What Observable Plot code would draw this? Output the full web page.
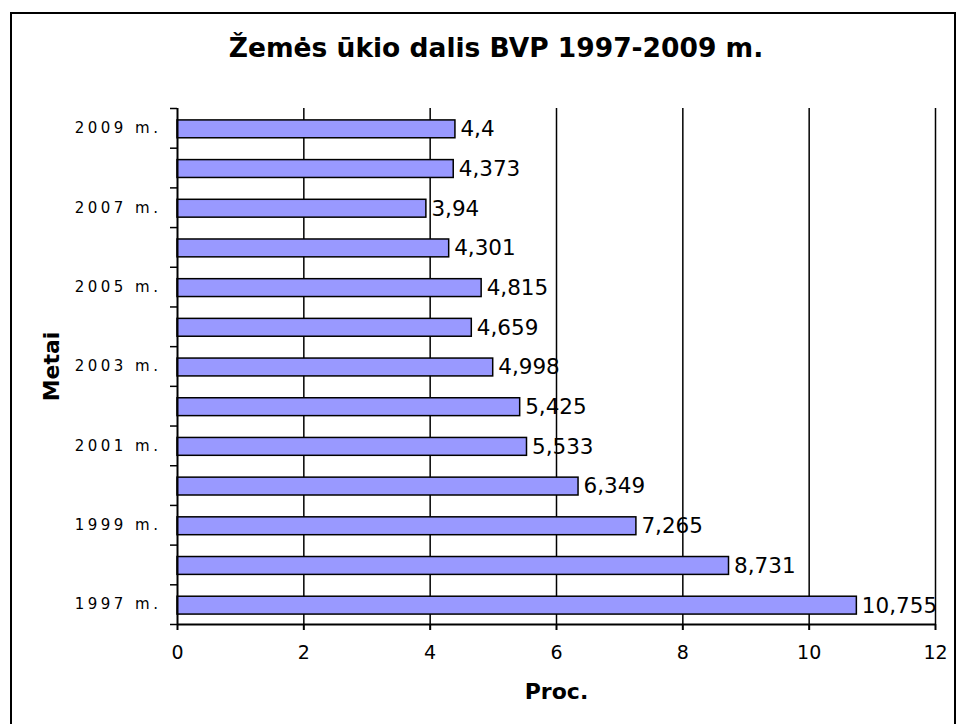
<!DOCTYPE html>
<html>
<head>
<meta charset="utf-8">
<script src="https://cdn.jsdelivr.net/npm/d3@7"></script>
<script src="https://cdn.jsdelivr.net/npm/@observablehq/plot@0.6"></script>
<style>
  body { margin: 0; background: #fff; }
  #wrap { position: relative; width: 958px; height: 724px; overflow: hidden; font-family: "DejaVu Sans", Verdana, sans-serif; }
  #frame { position: absolute; left: 10px; top: 12px; width: 942px; height: 760px; border: 2px solid #000; pointer-events: none; }
  #title { position: absolute; left: 0; top: 32px; width: 992px; text-align: center; font-weight: bold; font-size: 26.5px; line-height: normal; color: #000; }
  #chart { position: absolute; left: 0; top: 0; }
  g[aria-label="y-axis label"] text, g[aria-label="x-axis label"] text { font-weight: bold; font-size: 22px; }
  g[aria-label="y-axis tick label"] text { letter-spacing: 3.5px; font-size: 15px; }
  g[aria-label="x-axis tick label"] text { font-size: 19px; }
</style>
</head>
<body>
<div id="wrap">
  <div id="chart"></div>
  <div id="frame"></div>
  <div id="title">Žemės ūkio dalis BVP 1997-2009 m.</div>
</div>
<script>
// Data (bottom to top)
const years = [1997, 1998, 1999, 2000, 2001, 2002, 2003, 2004, 2005, 2006, 2007, 2008, 2009];
const values = [10.755, 8.731, 7.265, 6.349, 5.533, 5.425, 4.998, 4.659, 4.815, 4.301, 3.94, 4.373, 4.4];
const yTickLabels = ["1997 m.", "", "1999 m.", "", "2001 m.", "", "2003 m.", "", "2005 m.", "", "2007 m.", "", "2009 m."];
const xTicks = [0, 2, 4, 6, 8, 10, 12];
const gridLines = [2, 4, 6, 8, 10, 12];

const data = years.map((y, i) => ({year: y, i, value: values[i], label: yTickLabels[i]}));
const fmt = v => String(v).replace(".", ",");
const labelled = data.filter(d => d.label);

const chart = Plot.plot({
  width: 958,
  height: 724,
  marginLeft: 177,
  marginRight: 23,
  marginTop: 108,
  marginBottom: 100,
  style: { fontFamily: "DejaVu Sans, Verdana, sans-serif", color: "#000", background: "transparent" },
  x: { domain: [0, 12] },
  y: { domain: [0, years.length] },
  marks: [
    Plot.ruleX(gridLines, { stroke: "#000", strokeWidth: 1.5 }),
    Plot.rectX(data, {
      x1: 0, x2: "value",
      y1: d => d.i + 0.25, y2: d => d.i + 0.7,
      fill: "#9999ff", stroke: "#000", strokeWidth: 1.5
    }),
    Plot.text(data, {
      x: "value", y: d => d.i + 0.475, text: d => fmt(d.value),
      textAnchor: "start", dx: 5, fontSize: 21.5, fill: "#000"
    }),
    Plot.ruleX([0], { stroke: "#000", strokeWidth: 2 }),
    Plot.ruleY([0], { stroke: "#000", strokeWidth: 2 }),
    Plot.axisX({
      ticks: xTicks, tickSize: 6, tickPadding: 15, fontSize: 19,
      strokeWidth: 2, label: "Proc.", labelAnchor: "center", labelOffset: 74, labelArrow: "none"
    }),
    Plot.axisY({
      ticks: d3.range(0, years.length + 1), tickSize: 7, strokeWidth: 1.5,
      tickFormat: () => "", label: "Metai", labelAnchor: "center", labelOffset: 134, labelArrow: "none"
    }),
    Plot.axisY({
      ticks: labelled.map(d => d.i + 0.5), tickSize: 0, tickPadding: 16, fontSize: 15,
      tickFormat: v => data[Math.floor(v)].label, label: null
    })
  ]
});
document.getElementById("chart").appendChild(chart);
</script>
</body>
</html>
